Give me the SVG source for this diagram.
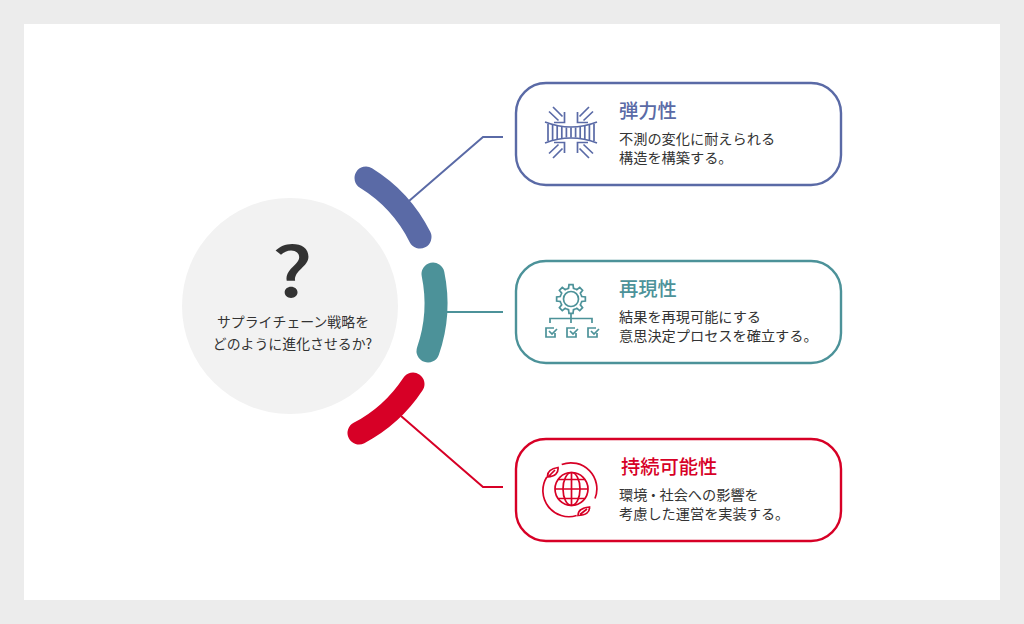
<svg xmlns="http://www.w3.org/2000/svg" width="1024" height="624" viewBox="0 0 1024 624">
<defs>
<path id="arrow" d="M564.500 112V122.500H554M553 107L562.500 116.500M549 111.500L558.500 120.500"/>
<g id="gear-seg"><path d="M-4.210-10.160L-2.470-10.720L-2.020-14.360H2.020L2.470-10.720L4.210-10.160"/></g>
<g id="check"><path d="M554 328H546V337H555V333M549 331L552 334L557 329"/></g>
</defs>
<style>
text{font-family:"Noto Sans CJK JP","Liberation Sans",sans-serif;fill:#333}
.t{font-size:19.300px;font-weight:500}
.d{font-size:14.200px}
.q{font-size:13.900px;text-anchor:middle}
.box{fill:#fff;stroke-width:2.400}
.arc{fill:none;stroke-width:23;stroke-linecap:round}
.ln{fill:none;stroke-width:2}
.ic{fill:none;stroke-width:1.700}
.blue{stroke:#5a6aa6}.teal{stroke:#4c9299}.red{stroke:#d70026}
</style>
<rect width="1024" height="624" fill="#ececec"/>
<rect x="24" y="24" width="976" height="576" fill="#fff"/>
<g id="connectors">
<path class="ln blue" d="M409 201L483 137H503"/>
<path class="ln teal" d="M440 312H503"/>
<path class="ln red" d="M401 416L483 487H503"/>
</g>
<g id="center">
<circle cx="290" cy="306" r="108" fill="#f2f2f2"/>
<text transform="translate(292.500 296.500) scale(1.120 .93)" text-anchor="middle" style="font-size:74px;font-weight:500">?</text>
<text class="q" x="293" y="327">サプライチェーン戦略を</text>
<text class="q" x="292.500" y="349">どのように進化させるか?</text>
</g>
<g id="arcs">
<path class="arc blue" d="M366 178A146 146 0 0 1 420 237"/>
<path class="arc teal" d="M433 274A146 146 0 0 1 428 351"/>
<path class="arc red" d="M413 384A146 146 0 0 1 359 433"/>
</g>
<g id="node-resilience">
<rect class="box blue" x="516" y="83" width="325" height="102" rx="30"/>
<g class="ic blue">
<path d="M545 122Q571 132 597 122M545 143Q571 133 597 143"/>
<path d="M548 124V141M552.600 125V140M557.200 126V139M561.800 127V138M566.400 127.500V137.500M571 127.500V137.500M575.600 127.500V137.500M580.200 127V138M584.800 126V139M589.400 125V140M594 124V141"/>
<use href="#arrow"/>
<use href="#arrow" transform="translate(1142 0) scale(-1 1)"/>
<use href="#arrow" transform="translate(0 265) scale(1 -1)"/>
<use href="#arrow" transform="translate(1142 265) scale(-1 -1)"/>
</g>
<text class="t" x="619" y="118" style="fill:#5a6aa6">弾力性</text>
<text class="d" x="619" y="144">不測の変化に耐えられる</text>
<text class="d" x="619" y="163">構造を構築する。</text>
</g>
<g id="node-reproducibility">
<rect class="box teal" x="516" y="261" width="325" height="102" rx="30"/>
<g class="ic teal">
<circle cx="571" cy="299" r="7.500"/>
<g transform="translate(571 299)">
<use href="#gear-seg"/>
<use href="#gear-seg" transform="rotate(45)"/>
<use href="#gear-seg" transform="rotate(90)"/>
<use href="#gear-seg" transform="rotate(135)"/>
<use href="#gear-seg" transform="rotate(180)"/>
<use href="#gear-seg" transform="rotate(225)"/>
<use href="#gear-seg" transform="rotate(270)"/>
<use href="#gear-seg" transform="rotate(315)"/>
</g>
<path d="M571 313V323M550 323V318.500H592V323"/>
<use href="#check"/>
<use href="#check" transform="translate(21 0)"/>
<use href="#check" transform="translate(42 0)"/>
</g>
<text class="t" x="619" y="296" style="fill:#4c9299">再現性</text>
<text class="d" x="619" y="322">結果を再現可能にする</text>
<text class="d" x="619" y="341">意思決定プロセスを確立する。</text>
</g>
<g id="node-sustainability">
<rect class="box red" x="516" y="439" width="325" height="102" rx="30"/>
<g class="ic red">
<circle cx="571.500" cy="489" r="16.500"/>
<ellipse cx="571.500" cy="489" rx="8.500" ry="16.500"/>
<path d="M571.500 472.500V505.500M555 489H588M558 479.500H585M558 498.500H585"/>
<path d="M546.800 477A26 26 0 0 0 576.700 515.500M561.700 464.500A26 26 0 0 1 595 498.500"/>
<path d="M547.500 477Q547 469 558 467.500Q559 476 547.500 477ZM549 476L555 470M578 515.500Q578 508 589.500 507Q590 515 578 515.500ZM580 514.500L587 509"/>
</g>
<text class="t" x="621" y="474" style="fill:#d70026">持続可能性</text>
<text class="d" x="619" y="500">環境<tspan dx="2.500" style="font-feature-settings:'palt';letter-spacing:2.500px">・</tspan>社会への影響を</text>
<text class="d" x="619" y="519">考慮した運営を実装する。</text>
</g>
</svg>
